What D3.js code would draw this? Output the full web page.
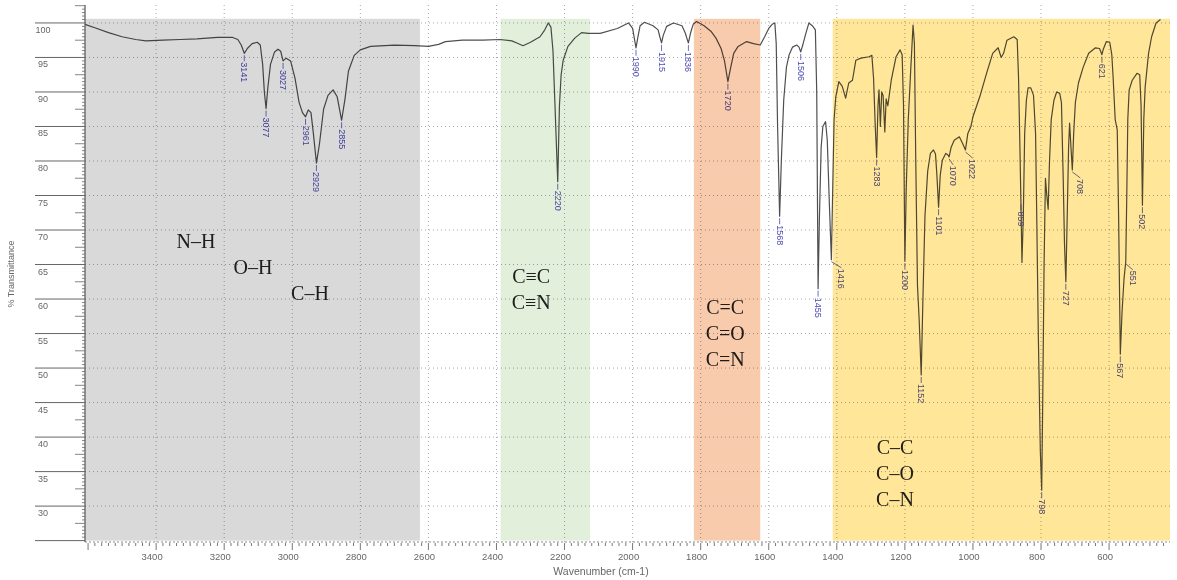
<!DOCTYPE html>
<html lang="en">
<head>
<meta charset="UTF-8" />
<title>FTIR spectrum</title>
<style>
  body { margin: 0; background: #fff; }
  svg { display: block; font-family: "Liberation Sans", Arial, sans-serif; }
</style>
</head>
<body>
<script src="https://cdn.jsdelivr.net/npm/d3@7"></script>
<div id="app"></div>
<script>
// DATA - spectrum (cm-1, %T)
const wavenumber = [
  3609, 3580, 3540, 3500, 3460, 3430, 3380, 3330, 3280, 3220, 3175, 3160, 3150, 3141, 3132, 3118, 3103, 3094,
  3087, 3082, 3077, 3072, 3064, 3052, 3042, 3034, 3027, 3018, 3005, 2992, 2980, 2970, 2961, 2953, 2945, 2938,
  2929, 2920, 2908, 2895, 2880, 2868, 2855, 2845, 2835, 2818, 2800, 2770, 2700, 2640, 2600, 2570, 2550, 2500,
  2440, 2390, 2355, 2340, 2322, 2300, 2272, 2258, 2248, 2240, 2234, 2228, 2220, 2215, 2210, 2204, 2190, 2170,
  2150, 2130, 2095, 2045, 2012, 2000, 1995, 1990, 1985, 1978, 1965, 1940, 1925, 1920, 1915, 1910, 1900, 1880,
  1855, 1845, 1840, 1836, 1830, 1822, 1812, 1790, 1770, 1755, 1740, 1730, 1720, 1712, 1703, 1690, 1665, 1645,
  1625, 1612, 1600, 1590, 1582, 1578, 1574, 1568, 1563, 1556, 1548, 1540, 1530, 1518, 1511, 1506, 1500, 1492,
  1482, 1472, 1463, 1459, 1455, 1451, 1446, 1441, 1433, 1428, 1422, 1416, 1412, 1408, 1403, 1394, 1384, 1374,
  1365, 1354, 1344, 1329, 1305, 1297, 1292, 1287, 1283, 1279, 1276, 1272, 1268, 1264, 1259, 1255, 1250, 1240,
  1226, 1214, 1208, 1204, 1200, 1196, 1190, 1183, 1176, 1172, 1168, 1163, 1158, 1152, 1147, 1141, 1133, 1125,
  1116, 1110, 1106, 1101, 1096, 1090, 1080, 1074, 1070, 1064, 1055, 1040, 1030, 1022, 1015, 1006, 1000, 980,
  960, 942, 926, 917, 910, 900, 880, 870, 866, 862, 859, 856, 852, 848, 843, 838, 830, 822, 816, 812,
  808, 802, 798, 795, 791, 787, 783, 779, 775, 770, 762, 754, 745, 740, 735, 731, 727, 723, 719, 716,
  712, 708, 704, 699, 690, 676, 660, 640, 628, 624, 621, 617, 608, 598, 592, 588, 582, 576, 572, 567,
  562, 556, 551, 548, 545, 541, 532, 518, 510, 506, 502, 498, 494, 484, 475, 462, 449
];
const transmittance = [
  99.8, 99.3, 98.6, 98.0, 97.6, 97.4, 97.5, 97.6, 97.7, 97.9, 97.9, 97.6, 96.8, 95.6, 96.3, 97.0, 97.2, 96.8,
  94.0, 90.0, 87.6, 90.5, 94.0, 95.8, 96.2, 95.9, 94.5, 94.9, 94.5, 92.0, 88.5, 87.0, 86.4, 87.4, 87.0, 84.0,
  79.7, 82.5, 87.5, 89.5, 90.3, 89.3, 85.9, 89.0, 93.0, 95.3, 96.1, 96.6, 96.8, 96.7, 96.6, 96.9, 97.3, 97.5,
  97.5, 97.6, 97.4, 97.1, 96.7, 97.2, 98.0, 99.0, 100.0, 99.4, 96.0, 88.0, 77.0, 88.0, 92.5, 94.6, 96.6, 97.8,
  98.6, 98.5, 98.5, 99.2, 100.0, 99.2, 97.8, 96.4, 97.8, 99.6, 100.1, 99.6, 99.0, 98.0, 97.1, 98.2, 99.5, 100.0,
  99.6, 98.5, 97.7, 97.1, 98.5, 99.8, 100.2, 99.6, 98.8, 97.8, 96.3, 94.5, 91.5, 93.5, 95.6, 96.6, 97.3, 97.0,
  96.8, 98.0, 99.2, 99.8, 100.0, 97.0, 85.0, 72.0, 80.0, 88.8, 93.6, 95.4, 96.5, 96.8, 96.5, 95.8, 96.8, 98.3,
  100.0, 99.6, 99.0, 90.0, 61.5, 72.0, 82.0, 85.0, 85.7, 83.0, 74.0, 65.7, 76.0, 86.0, 89.3, 91.5, 90.8, 89.1,
  91.3, 91.7, 94.6, 94.9, 95.1, 95.3, 92.0, 85.0, 80.5, 88.0, 90.3, 85.0, 90.0, 89.5, 84.2, 89.0, 88.0, 91.7,
  95.1, 96.1, 95.4, 88.0, 65.5, 76.0, 86.0, 93.0, 99.7, 97.0, 80.0, 62.0, 57.0, 49.0, 60.0, 72.0, 78.5, 81.1,
  81.6, 81.0, 78.0, 73.3, 78.0, 80.1, 81.1, 80.9, 80.6, 82.0, 83.0, 83.5, 82.5, 81.6, 84.0, 85.0, 86.4, 89.3,
  92.7, 95.6, 96.4, 95.0, 95.6, 97.5, 98.0, 97.6, 92.0, 82.0, 74.0, 65.3, 72.0, 84.0, 88.8, 90.6, 90.6, 89.5,
  84.0, 70.0, 55.0, 38.0, 32.3, 45.0, 65.0, 77.5, 75.0, 73.0, 80.0, 86.0, 88.8, 90.0, 89.8, 88.5, 78.0, 68.0,
  62.5, 72.0, 82.0, 85.5, 82.0, 78.7, 84.0, 88.5, 91.3, 93.6, 95.6, 96.4, 96.3, 95.8, 95.4, 96.2, 97.3, 97.2,
  95.4, 92.0, 86.0, 84.5, 72.0, 52.0, 58.0, 63.0, 65.4, 75.0, 86.0, 90.3, 91.7, 92.7, 92.5, 88.0, 73.6, 86.0,
  90.7, 95.6, 98.0, 100.0, 100.5
];
const peakLabels = [3141, 3077, 3027, 2961, 2929, 2855, 2220, 1990, 1915, 1836, 1720, 1568, 1506, 1455, 1416,
  1283, 1200, 1152, 1101, 1070, 1022, 859, 798, 727, 708, 621, 567, 551, 502];
const xTicks = [3400, 3200, 3000, 2800, 2600, 2400, 2200, 2000, 1800, 1600, 1400, 1200, 1000, 800, 600];
const yTicks = [30, 35, 40, 45, 50, 55, 60, 65, 70, 75, 80, 85, 90, 95, 100];
const bandFrom = [3609, 2388, 1820, 1412];
const bandTo = [2625, 2125, 1625, 421];
const bandGroups = [["N–H", "O–H", "C–H"], ["C≡C", "C≡N"], ["C=C", "C=O", "C=N"], ["C–C", "C–O", "C–N"]];

// layout / styles
const w = 1177, h = 580;
const plot = { left: 85, right: 1170, top: 5, bottom: 542 };
const bandColors = ["#d9d9d9", "#e2efda", "#f8cbad", "#ffe699"];
const groupX = [3283, 2298, 1728, 1229];
const groupY = [67.4, 62.3, 57.8, 37.5];
const groupShift = [57, 0, 0, 0];
const labelShift = { 1416: 10, 1070: 4, 1022: 7, 708: 8, 551: 7 };

const svg = d3.select("#app")
  .append("svg")
  .attr("width", w)
  .attr("height", h);

const xScale = d3.scaleLinear().domain([3609, 421]).range([plot.left, plot.right]);
const yScale = d3.scaleLinear().domain([24.8, 102.6]).range([plot.bottom, plot.top]);

// transmittance at a given wavenumber
const tAt = v => {
  const i = wavenumber.findIndex(d => d <= v);
  if (i <= 0) return transmittance[Math.max(i, 0)];
  const a = wavenumber[i - 1], b = wavenumber[i];
  return transmittance[i - 1] + (transmittance[i] - transmittance[i - 1]) * (a - v) / (a - b);
};

// GRID
svg.append("g")
  .selectAll("line")
  .data(xTicks)
  .enter()
  .append("line")
  .attr("x1", d => xScale(d)).attr("x2", d => xScale(d))
  .attr("y1", plot.top).attr("y2", plot.bottom)
  .attr("stroke", "#a4a8b4")
  .attr("stroke-dasharray", "1,3");

svg.append("g")
  .selectAll("line")
  .data(yTicks)
  .enter()
  .append("line")
  .attr("x1", plot.left).attr("x2", plot.right)
  .attr("y1", d => yScale(d)).attr("y2", d => yScale(d))
  .attr("stroke", "#a4a8b4")
  .attr("stroke-dasharray", "1,3");

// SPECTRUM
const line = d3.line()
  .x(i => xScale(wavenumber[i]))
  .y(i => yScale(transmittance[i]));

svg.append("path")
  .datum(d3.range(wavenumber.length))
  .attr("d", line)
  .attr("fill", "none")
  .attr("stroke", "#4f4f4f")
  .attr("stroke-width", 1.2)
  .attr("stroke-linejoin", "round");

// PEAK LABELS
const peaks = svg.append("g")
  .selectAll("g")
  .data(peakLabels)
  .enter()
  .append("g");

peaks.append("line")
  .attr("x1", d => xScale(d))
  .attr("y1", d => yScale(tAt(d)) + 2)
  .attr("x2", d => xScale(d) + (labelShift[d] || 0))
  .attr("y2", d => yScale(tAt(d)) + 8)
  .attr("stroke", "#4a4ab4")
  .attr("stroke-width", 0.8);

peaks.append("text")
  .attr("transform", d => `translate(${xScale(d) + (labelShift[d] || 0)},${yScale(tAt(d)) + 9}) rotate(90)`)
  .attr("dominant-baseline", "central")
  .attr("font-size", 9)
  .attr("fill", "#4a4ab4")
  .text(d => d);

// GROUP LABELS
bandGroups.forEach((names, k) => {
  svg.append("g")
    .selectAll("text")
    .data(names)
    .enter()
    .append("text")
    .attr("x", (d, i) => xScale(groupX[k]) + i * groupShift[k])
    .attr("y", (d, i) => yScale(groupY[k]) + i * 26)
    .attr("text-anchor", "middle")
    .attr("font-family", "'Liberation Serif', 'Times New Roman', serif")
    .attr("font-size", 20)
    .attr("fill", "#222")
    .text(d => d);
});

// BANDS (multiply over the spectrum)
svg.append("g")
  .selectAll("rect")
  .data(d3.range(bandFrom.length))
  .enter()
  .append("rect")
  .attr("x", i => xScale(bandFrom[i]))
  .attr("width", i => xScale(bandTo[i]) - xScale(bandFrom[i]))
  .attr("y", yScale(100.6))
  .attr("height", yScale(25) - yScale(100.6))
  .attr("fill", i => bandColors[i])
  .style("mix-blend-mode", "multiply");

// X AXIS
svg.append("line")
  .attr("x1", plot.left).attr("x2", plot.right)
  .attr("y1", plot.bottom).attr("y2", plot.bottom)
  .attr("stroke", "#8a8a8a")
  .attr("stroke-dasharray", "2,2");

svg.append("g")
  .selectAll("line")
  .data(d3.range(3600, 430, -20))
  .enter()
  .append("line")
  .attr("x1", d => xScale(d)).attr("x2", d => xScale(d))
  .attr("y1", plot.bottom + 1)
  .attr("y2", d => plot.bottom + (d % 200 === 0 ? 8 : 4))
  .attr("stroke", "#777");

svg.append("g")
  .selectAll("text")
  .data(xTicks)
  .enter()
  .append("text")
  .attr("x", d => xScale(d) - 4)
  .attr("y", plot.bottom + 18)
  .attr("text-anchor", "middle")
  .attr("font-size", 9.5)
  .attr("fill", "#666")
  .text(d => d);

svg.append("text")
  .attr("x", 601)
  .attr("y", 575)
  .attr("text-anchor", "middle")
  .attr("font-size", 10.5)
  .attr("fill", "#666")
  .text("Wavenumber (cm-1)");

// Y AXIS
svg.append("line")
  .attr("x1", plot.left).attr("x2", plot.left)
  .attr("y1", plot.top).attr("y2", plot.bottom)
  .attr("stroke", "#555")
  .attr("stroke-width", 1.2);

svg.append("g")
  .selectAll("line")
  .data(d3.range(25, 102.6, 0.5))
  .enter()
  .append("line")
  .attr("x1", d => d % 5 === 0 ? 35 : (d % 2.5 === 0 ? plot.left - 10 : plot.left - 3))
  .attr("x2", plot.left)
  .attr("y1", d => yScale(d)).attr("y2", d => yScale(d))
  .attr("stroke", "#666")
  .attr("stroke-width", d => d % 5 === 0 ? 1 : 0.8);

svg.append("g")
  .selectAll("text")
  .data(yTicks)
  .enter()
  .append("text")
  .attr("x", 43)
  .attr("y", d => yScale(d) + 10)
  .attr("text-anchor", "middle")
  .attr("font-size", 9)
  .attr("fill", "#666")
  .text(d => d);

svg.append("text")
  .attr("transform", "translate(14,274) rotate(-90)")
  .attr("text-anchor", "middle")
  .attr("font-size", 9)
  .attr("fill", "#666")
  .text("% Transmittance");
</script>
</body>
</html>
